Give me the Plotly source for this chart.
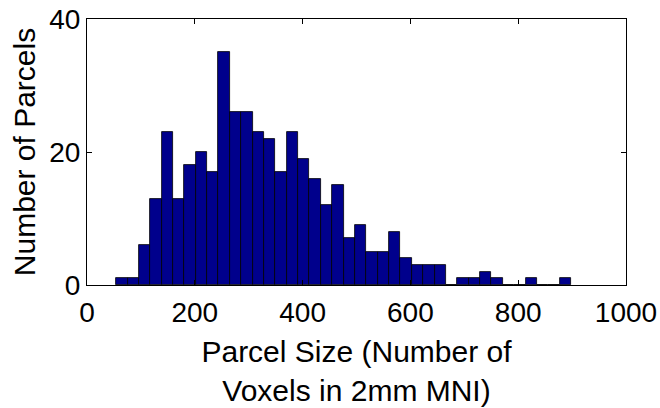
import plotly.graph_objects as go

# Histogram bins (centers, bin width ~21.1) and counts
bin_centers = [64.6, 85.7, 106.8, 127.9, 149.0, 170.1, 191.2, 212.3, 233.4, 254.5,
               275.6, 296.7, 317.8, 338.9, 360.0, 381.1, 402.2, 423.3, 444.4, 465.5,
               486.6, 507.7, 528.8, 549.9, 571.0, 592.1, 613.2, 634.3, 655.4, 676.5,
               697.6, 718.7, 739.8, 760.9, 782.0, 803.1, 824.2, 845.3, 866.4, 887.5]
counts = [1, 1, 6, 13, 23, 13, 18, 20, 17, 35,
          26, 26, 23, 22, 17, 23, 19, 16, 12, 15,
          7, 9, 5, 5, 8, 4, 3, 3, 3, 0,
          1, 1, 2, 1, 0, 0, 1, 0, 0, 1]
bin_width = 21.1

x_ticks = [0, 200, 400, 600, 800, 1000]
y_ticks = [0, 20, 40]

FONT = "Liberation Sans, Arial, Helvetica, sans-serif"

fig = go.Figure()
fig.add_trace(go.Bar(
    x=bin_centers, y=counts, width=bin_width,
    marker=dict(color="#00008C", line=dict(color="#000000", width=0.8)),
    showlegend=False,
))

axis_common = dict(
    showline=True, linecolor="black", linewidth=1, mirror="ticks",
    ticks="inside", ticklen=5, tickwidth=1, tickcolor="black",
    showgrid=False, zeroline=False, automargin=False,
    tickfont=dict(family=FONT, size=28, color="black"),
)

fig.update_layout(
    width=660, height=408,
    margin=dict(l=87, r=34, t=19, b=123, autoexpand=False),
    paper_bgcolor="white", plot_bgcolor="white",
    bargap=0,
    xaxis=dict(range=[0, 1000], tickvals=x_ticks, ticktext=[str(v) for v in x_ticks],
               ticklabelstandoff=2,
               title=dict(text="Parcel Size (Number of<br>Voxels in 2mm MNI)",
                          font=dict(family=FONT, size=30, color="black"), standoff=14),
               **axis_common),
    yaxis=dict(range=[0, 40], tickvals=y_ticks, ticktext=[str(v) for v in y_ticks],
               title=dict(text="Number of Parcels",
                          font=dict(family=FONT, size=30, color="black"), standoff=4),
               **axis_common),
)

fig.write_html(
    "out.html",
    config={"displayModeBar": False},
    post_script="document.body.style.margin='0';document.body.style.overflow='hidden';",
)
